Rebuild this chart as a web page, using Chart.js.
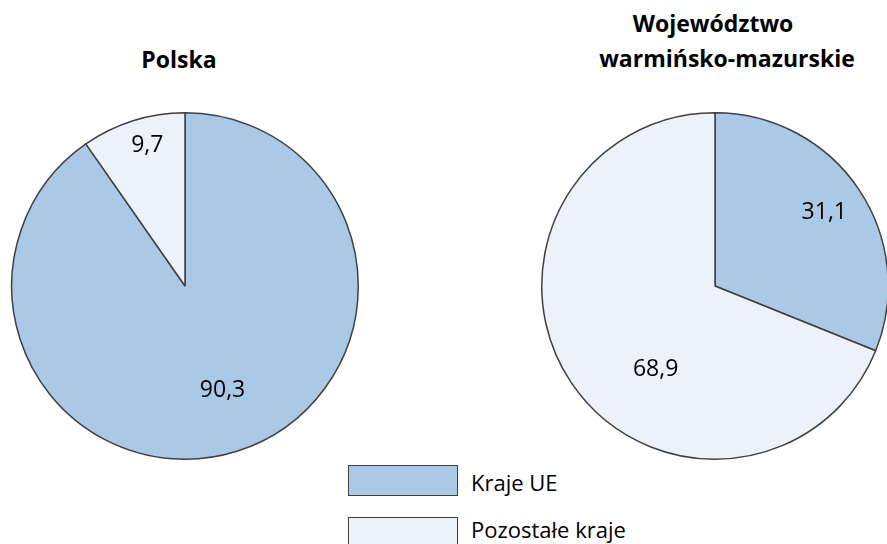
<!DOCTYPE html>
<html><head><meta charset="utf-8">
<script src="https://cdn.jsdelivr.net/npm/chart.js@4/dist/chart.umd.min.js"></script>
<style>
html,body{margin:0;padding:0;background:#fff;width:887px;height:544px;overflow:hidden;position:relative;font-family:"Open Sans",sans-serif;}
.c{position:absolute;}
.t{position:absolute;font-weight:bold;font-size:23px;color:#000;white-space:nowrap;transform:translateX(-50%);line-height:1;}
.lt{position:absolute;left:471px;font-size:22px;line-height:1;white-space:nowrap;color:#000;}
.b{position:absolute;left:348px;width:110px;height:31px;border:1.5px solid #404040;box-sizing:border-box;}
</style></head><body>
<div class="c" style="left:10px;top:111px;width:350px;height:350px;"><canvas id="p1"></canvas></div>
<div class="c" style="left:540px;top:111px;width:350px;height:350px;"><canvas id="p2"></canvas></div>
<div class="t" id="t1" style="left:179px;top:47.5px;"></div>
<div class="t" id="t2a" style="left:713px;top:11.5px;"></div>
<div class="t" id="t2b" style="left:727px;top:46.5px;"></div>
<div class="b" style="top:465px;background:#A9C9E7"></div>
<div class="b" style="top:517px;background:#EDF2FA"></div>
<div class="lt" id="l1" style="top:470.5px;"></div>
<div class="lt" id="l2" style="top:517.5px;"></div>
<script>
const categories = ["Kraje UE", "Pozostałe kraje"];
const polskaValues = [90.3, 9.7];
const wmValues = [31.1, 68.9];
const titles = [["Polska"], ["Województwo", "warmińsko-mazurskie"]];

document.getElementById('t1').textContent = titles[0][0];
document.getElementById('t2a').textContent = titles[1][0];
document.getElementById('t2b').textContent = titles[1][1];
document.getElementById('l1').textContent = categories[0];
document.getElementById('l2').textContent = categories[1];

const colors = ['#A9C9E7', '#EDF2FA'];

const labelPlugin = {
  id: 'sliceLabels',
  afterDatasetsDraw(chart, args, opts) {
    const ctx = chart.ctx;
    const meta = chart.getDatasetMeta(0);
    ctx.save();
    ctx.font = '23px "Open Sans", sans-serif';
    ctx.fillStyle = '#000';
    ctx.textAlign = 'center';
    ctx.textBaseline = 'middle';
    meta.data.forEach((arc, i) => {
      const p = opts.pos[i];
      const a = p[0] * Math.PI / 180;
      const r = arc.outerRadius * p[1];
      const x = arc.x + Math.sin(a) * r;
      const y = arc.y - Math.cos(a) * r;
      const v = chart.data.datasets[0].data[i];
      ctx.fillText(v.toFixed(1).replace('.', ','), x, y);
    });
    ctx.restore();
  }
};

function makePie(id, values, pos) {
  return new Chart(document.getElementById(id), {
    type: 'pie',
    data: {
      labels: categories,
      datasets: [{ data: values, backgroundColor: colors, borderColor: '#404040', borderWidth: 1.5 }]
    },
    options: {
      responsive: true,
      maintainAspectRatio: false,
      animation: false,
      layout: { padding: 1 },
      plugins: {
        legend: { display: false },
        tooltip: { enabled: false },
        sliceLabels: { pos: pos }
      }
    },
    plugins: [labelPlugin]
  });
}
makePie('p1', polskaValues, [[160.3, 0.643], [345, 0.84]]);
makePie('p2', wmValues, [[56.1, 0.76], [215.5, 0.59]]);
</script>
</body></html>
